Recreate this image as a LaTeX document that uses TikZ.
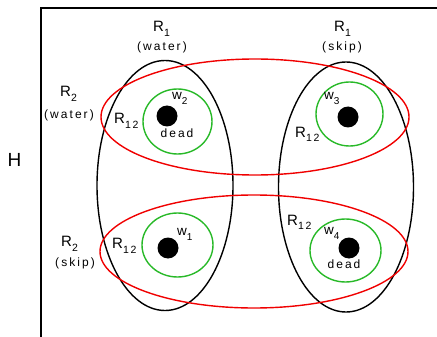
\documentclass[tikz,border=0pt]{standalone}
\usepackage{fontspec}
\setmainfont{Liberation Sans}
\newfontfamily\spacedfont[LetterSpace=17]{Liberation Sans}
\usetikzlibrary{shapes.geometric}
\definecolor{mygreen}{RGB}{40,185,40}
\definecolor{myred}{RGB}{240,0,0}
\newcommand\mysub[2][10.5]{\raisebox{-5pt}{\fontsize{#1}{#1}\spacedfont #2}}
\begin{document}
\begin{tikzpicture}[x=1pt,y=-1pt,
  blk/.style={draw=black,line width=1.4pt,ellipse,inner sep=0pt},
  redell/.style={draw=myred,line width=1.4pt,ellipse,inner sep=0pt},
  grn/.style={draw=mygreen,line width=1.4pt,ellipse,inner sep=0pt},
  dot/.style={fill=black,circle,inner sep=0pt,minimum size=21pt},
  big/.style={inner sep=0pt,font=\fontsize{15}{15}\selectfont},
  small/.style={inner sep=0pt,font=\fontsize{12}{12}\spacedfont},
  wlab/.style={inner sep=0pt,font=\fontsize{13.5}{13.5}\selectfont}]
\useasboundingbox (0,0) rectangle (437,337);
% frame
\draw[line width=1.8pt] (41,337) -- (41,8) -- (437,8);
% black ellipses
\node[blk,minimum width=136pt,minimum height=250pt] (r1w) at (165,185.5) {};
\node[blk,minimum width=135pt,minimum height=250pt] (r1s) at (346,187) {};
% red ellipses
\node[redell,minimum width=308pt,minimum height=116pt] (r2w) at (255,117) {};
\node[redell,minimum width=308pt,minimum height=113pt] (r2s) at (254,251.5) {};
% green circles
\node[grn,minimum width=69pt,minimum height=65pt] (g2) at (177.5,121.5) {};
\node[grn,minimum width=67pt,minimum height=64pt] (g3) at (349.5,114) {};
\node[grn,minimum width=71pt,minimum height=64pt] (g1) at (177.5,245) {};
\node[grn,minimum width=71pt,minimum height=63pt] (g4) at (345.5,250.5) {};
% dots
\node[dot] (d2) at (167,116) {};
\node[dot] (d3) at (348,117) {};
\node[dot] (d1) at (168,248) {};
\node[dot] (d4) at (349,248) {};
% labels
\node[inner sep=0pt,font=\fontsize{19}{19}\selectfont,anchor=base west] (H) at (7.5,167) {H};
\node[big,anchor=base west] (l1w) at (153,32) {R\mysub{1}};
\node[small] (l1wt) at (162,47) {(water)};
\node[big,anchor=base west] (l1s) at (334,32) {R\mysub{1}};
\node[small] (l1st) at (342,47) {(skip)};
\node[big,anchor=base west] (l2w) at (60,97) {R\mysub{2}};
\node[small] (l2wt) at (69,115) {(water)};
\node[big,anchor=base west] (l2s) at (61,246) {R\mysub{2}};
\node[small] (l2st) at (75,263) {(skip)};
\node[big,anchor=base west] (a1) at (114,124) {R\mysub{12}};
\node[big,anchor=base west] (a2) at (295,137) {R\mysub{12}};
\node[big,anchor=base west] (a3) at (112,248) {R\mysub{12}};
\node[big,anchor=base west] (a4) at (287,225) {R\mysub{12}};
\node[wlab,anchor=base west] (w2) at (172,100) {w\mysub[10]{2}};
\node[wlab,anchor=base west] (w3) at (324,100) {w\mysub[10]{3}};
\node[wlab,anchor=base west] (w1) at (177,235) {w\mysub[10]{1}};
\node[wlab,anchor=base west] (w4) at (324,234) {w\mysub[10]{4}};
\node[small,anchor=base] (dd2) at (177,137) {dead};
\node[small,anchor=base] (dd4) at (344,268) {dead};
\end{tikzpicture}
\end{document}
